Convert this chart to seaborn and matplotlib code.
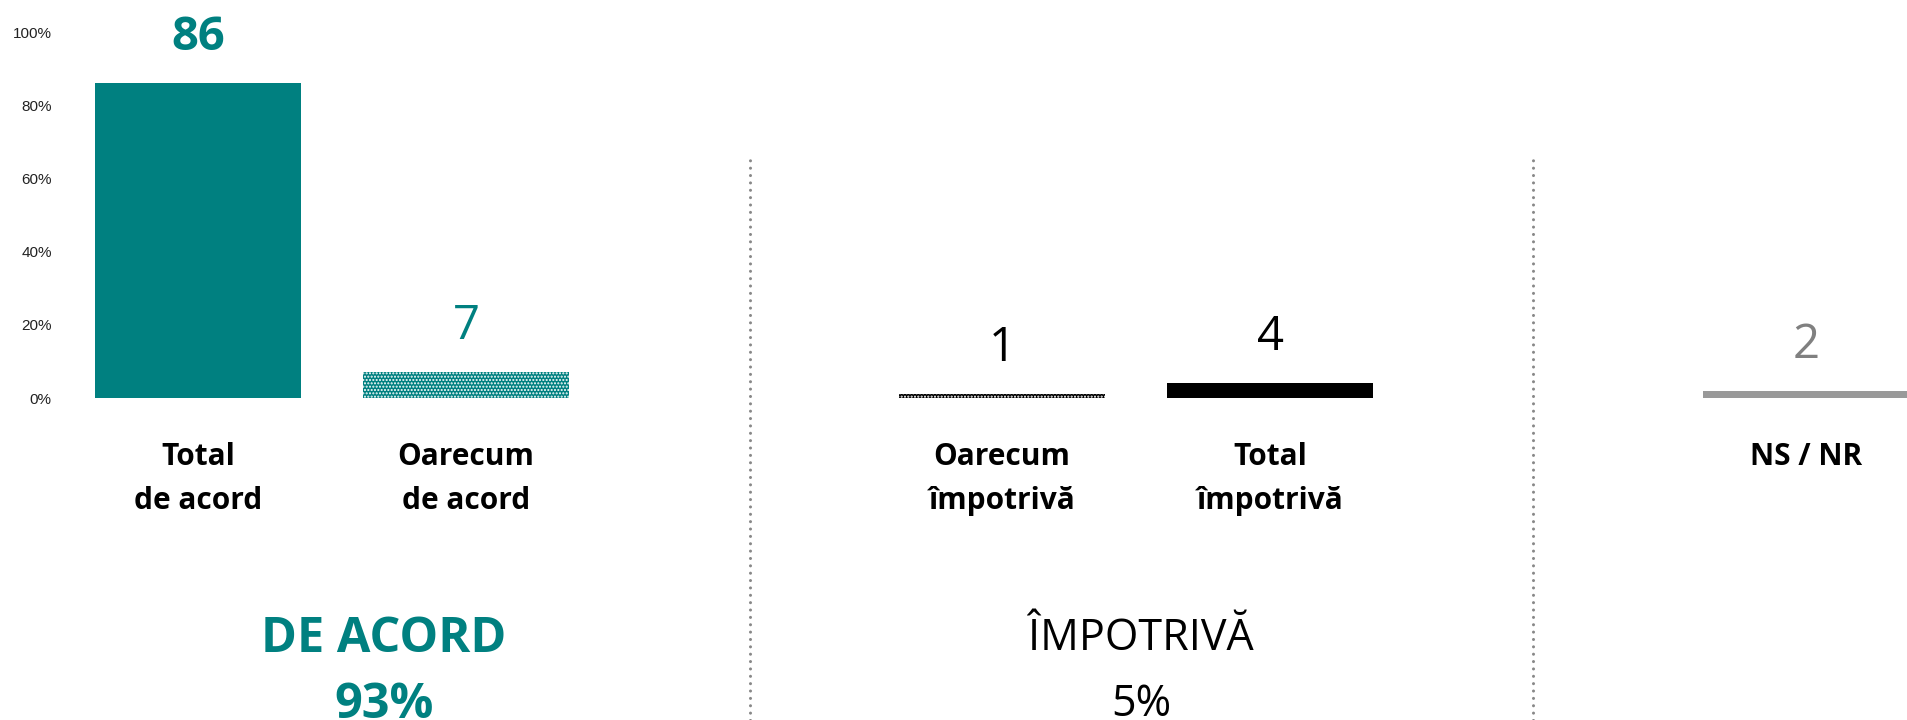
import numpy as np
import pandas as pd
import matplotlib
matplotlib.use("Agg")
import matplotlib.pyplot as plt
from matplotlib.lines import Line2D
import seaborn as sns

# data (percent)
categories = ["Total\nde acord", "Oarecum\nde acord",
              "Oarecum\nîmpotrivă", "Total\nîmpotrivă", "NS / NR"]
values = [86, 7, 1, 4, 2]
group_names = ["DE ACORD", "ÎMPOTRIVĂ"]
group_totals = ["93%", "5%"]
y_ticks = [0, 20, 40, 60, 80, 100]

# styling
TEAL = "#008080"
bar_colors = [TEAL, TEAL, "#000000", "#000000", "#999999"]
label_colors = [TEAL, TEAL, "#000000", "#000000", "#808080"]
label_weights = ["bold", "normal", "normal", "normal", "normal"]
hatched = [False, True, True, False, False]

sns.set_theme(style="white")
plt.rcParams["font.family"] = ["Open Sans", "DejaVu Sans"]
plt.rcParams["hatch.linewidth"] = 1.0

df = pd.DataFrame({"cat": categories, "val": values})
# empty slots between the groups
order = [categories[0], categories[1], "_gap1", categories[2], categories[3], "_gap2", categories[4]]

fig = plt.figure(figsize=(19.07, 7.2), dpi=100)
ax = fig.add_axes([60 / 1907, (720 - 398) / 720, 1 - 60 / 1907, (398 - 32) / 720])

sns.barplot(data=df, x="cat", y="val", hue="cat", order=order,
            palette=dict(zip(categories, bar_colors)), legend=False,
            width=0.77, saturation=1, ax=ax)

# patterned "Oarecum" bars
bars = [p for p in ax.patches if p.get_height() > 0]
bars.sort(key=lambda p: p.get_x())
for bar, h in zip(bars, hatched):
    bar.set_linewidth(0)
    if h:
        bar.set_hatch(".....")
        bar.set_edgecolor("white")

# value labels above the bars
for bar, v, c, w in zip(bars, values, label_colors, label_weights):
    ax.annotate(str(v), (bar.get_x() + bar.get_width() / 2, bar.get_height()),
                xytext=(0, 33), textcoords="offset points",
                ha="center", va="center", fontsize=34, color=c,
                fontweight=w, annotation_clip=False)

ax.set_xlim((60 - 198) / 268, (1907 - 198) / 268)
ax.set_ylim(0, 100)
ax.set_yticks(y_ticks)
ax.set_yticklabels([f"{t}%" for t in y_ticks], fontsize=11,
                   family="Liberation Sans", color="#222222")
ax.set_xticks(range(len(order)))
ax.set_xticklabels([c if not c.startswith("_") else "" for c in order],
                   fontsize=21.5, fontweight="bold", color="black",
                   linespacing=1.6)
ax.tick_params(axis="x", length=0, pad=31.5)
ax.tick_params(axis="y", length=0, pad=6)
ax.set_xlabel("")
ax.set_ylabel("")
sns.despine(ax=ax, left=True, bottom=True)

# dotted dividers between groups
for xf in [750 / 1907, 1533 / 1907]:
    fig.add_artist(Line2D([xf, xf], [0, 1 - 156 / 720], transform=fig.transFigure,
                          color="#888888", linewidth=2.2,
                          linestyle=(0, (0.01, 2.4)), dash_capstyle="round"))

# group summaries
fig.text(384 / 1907, 1 - 639 / 720, group_names[0], ha="center", va="center",
         fontsize=35, fontweight="bold", color=TEAL)
fig.text(384 / 1907, 1 - 706 / 720, group_totals[0], ha="center", va="center",
         fontsize=35, fontweight="bold", color=TEAL)
fig.text(1141 / 1907, 1 - 639 / 720, group_names[1], ha="center", va="center",
         fontsize=31, color="black")
fig.text(1141 / 1907, 1 - 705 / 720, group_totals[1], ha="center", va="center",
         fontsize=31, color="black")

fig.savefig("out.png", dpi=100)
